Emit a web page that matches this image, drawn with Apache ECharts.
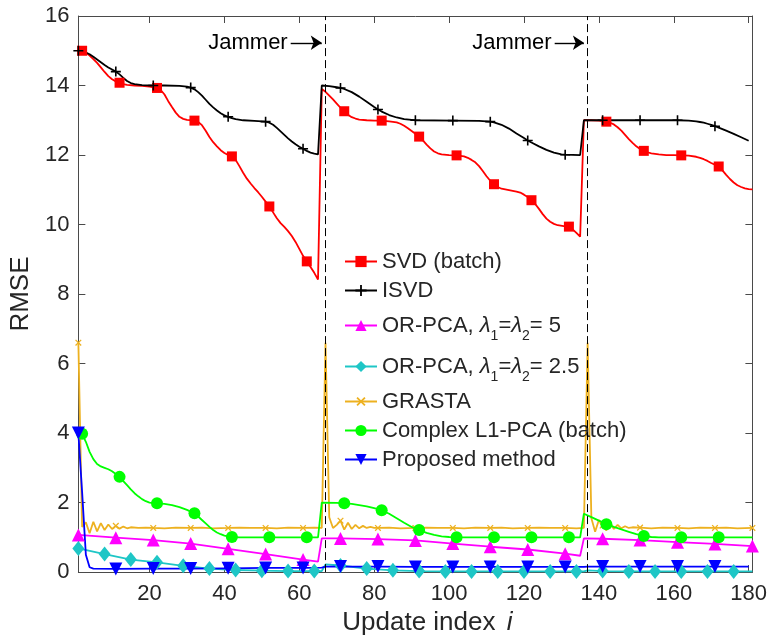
<!DOCTYPE html>
<html>
<head>
<meta charset="utf-8">
<script src="https://cdn.jsdelivr.net/npm/echarts@6/dist/echarts.min.js"></script>
<style>
  html, body { margin: 0; padding: 0; background: #fff; }
  #chart { width: 770px; height: 641px; }
</style>
</head>
<body>
<div id="chart"></div>
<script>
// RMSE per update index for each subspace tracker; [index, RMSE]
const svdBatch = [
  [1,15.0],[2,15.0],[3,14.95],[4,14.86],[5,14.76],[6,14.65],[7,14.52],[8,14.39],[9,14.27],[10,14.18],
  [11,14.12],[12,14.08],[13,14.04],[14,14.02],[16,14.0],[18,13.99],[20,13.97],[22,13.93],[23,13.87],[24,13.74],
  [25,13.55],[26,13.38],[27,13.22],[28,13.1],[29,13.04],[30,13.01],[32,12.99],[33,12.95],[34,12.86],[35,12.7],
  [36,12.52],[37,12.37],[38,12.25],[39,12.14],[40,12.06],[41,12.0],[42,11.96],[43,11.86],[44,11.68],[45,11.49],
  [46,11.32],[47,11.18],[48,11.05],[49,10.93],[50,10.8],[51,10.66],[52,10.52],[53,10.35],[54,10.18],[55,10.04],
  [56,9.93],[57,9.81],[58,9.67],[59,9.5],[60,9.3],[61,9.1],[62,8.94],[63,8.78],[64,8.61],[65,8.42],
  [66,13.9],[67,13.82],[68,13.71],[69,13.6],[70,13.48],[71,13.36],[72,13.26],[73,13.16],[74,13.09],[75,13.05],
  [76,13.02],[78,13.0],[80,12.99],[82,12.99],[84,12.97],[86,12.94],[87,12.9],[88,12.84],[89,12.77],[90,12.69],
  [91,12.61],[92,12.53],[93,12.42],[94,12.3],[95,12.19],[96,12.1],[97,12.05],[98,12.02],[100,12.0],[102,11.99],
  [104,11.96],[105,11.92],[106,11.86],[107,11.79],[108,11.68],[109,11.54],[110,11.39],[111,11.26],[112,11.16],[113,11.08],
  [114,11.03],[116,10.99],[118,10.95],[119,10.92],[120,10.86],[121,10.79],[122,10.7],[123,10.59],[124,10.45],[125,10.3],
  [126,10.17],[127,10.08],[128,10.02],[129,9.98],[131,9.95],[132,9.94],[133,9.86],[134,9.76],[135,9.65],
  [136,13.0],[138,13.0],[140,12.99],[142,12.96],[143,12.93],[144,12.88],[145,12.8],[146,12.7],[147,12.58],[148,12.46],
  [149,12.35],[150,12.25],[151,12.17],[152,12.12],[153,12.08],[154,12.05],[156,12.02],[158,12.0],[160,12.0],[162,11.99],
  [164,11.98],[166,11.95],[167,11.92],[168,11.88],[169,11.83],[170,11.77],[171,11.72],[172,11.67],[173,11.56],[174,11.43],
  [175,11.31],[176,11.21],[177,11.13],[178,11.08],[179,11.04],[180,11.02],[181,11.01]
];

const isvd = [
  [1,15.0],[2,14.99],[3,14.95],[4,14.9],[5,14.83],[6,14.75],[7,14.67],[8,14.59],[9,14.52],[10,14.46],
  [11,14.4],[12,14.32],[13,14.22],[14,14.13],[15,14.07],[16,14.04],[18,14.01],[21,14.0],[24,14.0],[28,13.99],
  [30,13.97],[31,13.94],[32,13.89],[33,13.81],[34,13.71],[35,13.59],[36,13.47],[37,13.37],[38,13.28],[39,13.2],
  [40,13.14],[41,13.1],[42,13.06],[43,13.03],[45,13.0],[48,12.98],[51,12.96],[52,12.93],[53,12.87],[54,12.78],
  [55,12.68],[56,12.58],[57,12.48],[58,12.39],[59,12.31],[60,12.24],[61,12.18],[62,12.12],[63,12.07],[64,12.04],[65,12.02],
  [66,14.0],[68,13.98],[70,13.95],[71,13.93],[72,13.9],[74,13.81],[76,13.68],[78,13.53],[80,13.38],[81,13.31],
  [82,13.25],[84,13.15],[86,13.08],[88,13.03],[90,13.01],[91,13.0],[101,12.99],[108,12.98],[111,12.96],[112,12.94],
  [114,12.87],[116,12.76],[118,12.62],[120,12.49],[121,12.42],[122,12.36],[124,12.25],[126,12.15],[128,12.07],[130,12.02],
  [131,12.01],[135,12.0],
  [136,13.0],[141,13.0],[151,13.0],[161,13.0],[164,12.99],[166,12.97],[167,12.95],[168,12.93],[169,12.9],[170,12.87],
  [171,12.83],[172,12.79],[174,12.7],[176,12.61],[178,12.51],[180,12.41]
];

const orPca5 = [
  [1,1.07],[11,0.99],[21,0.92],[31,0.82],[41,0.67],[51,0.52],[61,0.36],[65,0.3],
  [66,0.97],[71,0.97],[81,0.95],[91,0.91],[101,0.82],[111,0.73],[121,0.65],[131,0.53],[135,0.47],
  [136,0.97],[141,0.96],[151,0.92],[161,0.86],[171,0.81],[181,0.75]
];

const orPca25 = [
  [1,0.68],[8,0.52],[15,0.36],[22,0.28],[29,0.18],[36,0.1],[43,0.06],[50,0.04],[57,0.03],[64,0.03],[66,0.03],
  [67,0.22],[71,0.19],[78,0.1],[85,0.05],[92,0.03],[99,0.02],[106,0.02],[113,0.02],[120,0.02],[127,0.02],[134,0.02],[136,0.02],
  [137,0.05],[141,0.03],[148,0.02],[155,0.02],[162,0.02],[169,0.02],[176,0.02],[181,0.02]
];

const grasta = [
  [1,6.6],[2,1.3],[3,1.43],[4,1.12],[5,1.45],[6,1.17],[7,1.41],[8,1.21],[9,1.37],[10,1.24],
  [11,1.33],[12,1.25],[13,1.31],[14,1.26],[15,1.29],[17,1.27],[19,1.28],[21,1.27],[24,1.26],[27,1.28],
  [31,1.27],[34,1.28],[37,1.26],[41,1.27],[44,1.28],[47,1.27],[51,1.27],[54,1.26],[57,1.28],[61,1.27],[64,1.28],[66,1.27],
  [67,6.6],[68,1.58],[69,1.27],[70,1.36],[71,1.48],[72,1.22],[73,1.42],[74,1.24],[75,1.36],[76,1.26],
  [77,1.33],[78,1.27],[79,1.3],[80,1.27],[81,1.27],[84,1.28],[87,1.26],[91,1.27],[94,1.28],[97,1.27],
  [101,1.27],[104,1.26],[107,1.28],[111,1.27],[114,1.28],[117,1.26],[121,1.27],[124,1.28],[127,1.27],[131,1.27],[134,1.26],[136,1.27],
  [137,6.6],[138,1.55],[139,1.16],[140,1.5],[141,1.34],[142,1.2],[143,1.42],[144,1.24],[145,1.36],[146,1.26],
  [147,1.32],[148,1.27],[149,1.29],[151,1.28],[154,1.26],[157,1.28],[161,1.27],[164,1.26],[167,1.28],[171,1.27],
  [174,1.28],[177,1.26],[181,1.27]
];

const complexL1 = [
  [1,4.0],[2,3.98],[3,3.75],[4,3.46],[5,3.25],[6,3.11],[7,3.04],[8,3.0],[9,2.96],[10,2.9],
  [11,2.82],[12,2.74],[13,2.62],[14,2.5],[15,2.38],[16,2.27],[17,2.18],[18,2.1],[19,2.04],[20,2.0],
  [22,1.98],[24,1.96],[26,1.93],[28,1.87],[30,1.79],[32,1.69],[33,1.6],[34,1.5],[35,1.4],[36,1.3],
  [37,1.21],[38,1.14],[39,1.09],[40,1.05],[41,1.03],[42,1.01],[44,1.0],[52,1.0],[62,1.0],[65,1.0],
  [66,2.0],[70,1.99],[72,1.98],[74,1.96],[76,1.93],[78,1.89],[80,1.84],[82,1.78],[84,1.68],[86,1.55],
  [88,1.42],[90,1.3],[92,1.21],[94,1.13],[96,1.07],[98,1.03],[100,1.01],[102,1.0],[112,1.0],[122,1.0],
  [132,1.0],[135,1.0],
  [136,1.68],[138,1.58],[140,1.48],[142,1.38],[144,1.3],[146,1.23],[148,1.16],[150,1.09],[152,1.04],[154,1.01],
  [156,1.0],[162,1.0],[172,1.0],[181,1.0]
];

const proposed = [
  [1,4.0],[2,2.3],[3,0.5],[4,0.14],[5,0.1],[11,0.09],[21,0.1],[31,0.1],[41,0.11],[51,0.12],[61,0.12],[66,0.13],
  [67,0.16],[71,0.16],[81,0.16],[91,0.15],[101,0.15],[111,0.15],[121,0.15],[131,0.15],[136,0.15],
  [137,0.16],[141,0.16],[151,0.16],[161,0.16],[171,0.16],[180,0.16]
];

// update indices where the jammer switches on
const jammerAt = [67, 137];

// axis tick labels
const xTicks = [20, 40, 60, 80, 100, 120, 140, 160, 180];

const seriesNames = [
  'SVD (batch)',
  'ISVD',
  'OR-PCA, λ1=λ2= 5',
  'OR-PCA, λ1=λ2= 2.5',
  'GRASTA',
  'Complex L1-PCA (batch)',
  'Proposed method'
];

const FONT = '"Liberation Sans", Arial, Helvetica, sans-serif';
const AXIS_COLOR = '#4a4a4a';
const TEXT_COLOR = '#262626';
const PLUS = 'path://M0,4.2H10V5.8H0Z M4.2,0H5.8V10H4.2Z';

// legend labels with subscripted lambdas
const legendLabels = {
  'OR-PCA, λ1=λ2= 5': '{t|OR-PCA, }{l|λ}{s|1}{t|=}{l|λ}{s|2}{t|= 5}',
  'OR-PCA, λ1=λ2= 2.5': '{t|OR-PCA, }{l|λ}{s|1}{t|=}{l|λ}{s|2}{t|= 2.5}'
};

// symbols are drawn only at every step-th update index starting from `first`
function markerEvery(first, step, size) {
  return function (value) {
    const x = value[0];
    return (x >= first && (x - first) % step === 0) ? size : 0;
  };
}

function trace(name, data, color, symbol, size, first, step, rotate) {
  return {
    type: 'line',
    name: name,
    data: data,
    color: color,
    symbol: symbol,
    symbolRotate: rotate || 0,
    symbolSize: markerEvery(first, step, size),
    showAllSymbol: true,
    lineStyle: { width: 1.8, color: color },
    itemStyle: { color: color, borderWidth: 0 },
    emphasis: { disabled: true },
    z: 3
  };
}

const chart = echarts.init(document.getElementById('chart'), null, { renderer: 'canvas' });

const option = {
  animation: false,
  backgroundColor: '#ffffff',
  textStyle: { fontFamily: FONT },
  grid: { left: 77, right: 17, top: 16, bottom: 66, containLabel: false },
  legend: {
    orient: 'vertical',
    left: 339,
    top: 245,
    data: seriesNames,
    selectedMode: false,
    itemWidth: 32,
    itemHeight: 14,
    itemGap: 6,
    padding: 5,
    formatter: function (name) { return legendLabels[name] || name; },
    textStyle: {
      fontFamily: FONT,
      fontSize: 22,
      lineHeight: 23,
      color: TEXT_COLOR,
      rich: {
        t: { fontFamily: FONT, fontSize: 22, lineHeight: 35, color: TEXT_COLOR },
        l: { fontFamily: FONT, fontSize: 22, lineHeight: 35, color: TEXT_COLOR, fontStyle: 'italic' },
        s: { fontFamily: FONT, fontSize: 14, lineHeight: 12, color: TEXT_COLOR, verticalAlign: 'bottom' }
      }
    }
  },
  xAxis: [
    {
      type: 'value', min: 1, max: 181, position: 'bottom',
      axisLine: { show: true, onZero: false, lineStyle: { color: AXIS_COLOR, width: 1 } },
      axisTick: { show: true, inside: true, length: 7, customValues: xTicks, lineStyle: { color: AXIS_COLOR } },
      axisLabel: { customValues: xTicks, fontSize: 22, color: TEXT_COLOR, margin: 11, fontFamily: FONT },
      splitLine: { show: false },
      name: 'Update index {it|i}',
      nameLocation: 'middle',
      nameGap: 35,
      nameTextStyle: {
        fontFamily: FONT, fontSize: 26, color: TEXT_COLOR, padding: [0, 0, 0, 24],
        rich: { it: { fontFamily: FONT, fontSize: 26, color: TEXT_COLOR, fontStyle: 'italic', padding: [0, 0, 0, 4] } }
      }
    },
    {
      type: 'value', min: 1, max: 181, position: 'top',
      axisLine: { show: true, onZero: false, lineStyle: { color: AXIS_COLOR, width: 1 } },
      axisTick: { show: true, inside: true, length: 7, customValues: xTicks, lineStyle: { color: AXIS_COLOR } },
      axisLabel: { show: false },
      splitLine: { show: false }
    }
  ],
  yAxis: [
    {
      type: 'value', min: 0, max: 16, interval: 2, position: 'left',
      axisLine: { show: true, onZero: false, lineStyle: { color: AXIS_COLOR, width: 1 } },
      axisTick: { show: true, inside: true, length: 7, lineStyle: { color: AXIS_COLOR } },
      axisLabel: { fontSize: 22, color: TEXT_COLOR, margin: 9, fontFamily: FONT },
      splitLine: { show: false },
      name: 'RMSE',
      nameLocation: 'middle',
      nameGap: 44,
      nameTextStyle: { fontFamily: FONT, fontSize: 26, color: TEXT_COLOR }
    },
    {
      type: 'value', min: 0, max: 16, interval: 2, position: 'right',
      axisLine: { show: true, onZero: false, lineStyle: { color: AXIS_COLOR, width: 1 } },
      axisTick: { show: true, inside: true, length: 7, lineStyle: { color: AXIS_COLOR } },
      axisLabel: { show: false },
      splitLine: { show: false }
    }
  ],
  series: [
    trace(seriesNames[0], svdBatch, '#ff0000', 'rect', 10, 2, 10),
    trace(seriesNames[1], isvd, '#000000', PLUS, 10, 1, 10),
    trace(seriesNames[2], orPca5, '#ff00ff', 'triangle', 13, 1, 10),
    trace(seriesNames[3], orPca25, '#1ec6c6', 'diamond', [12, 15], 1, 7),
    trace(seriesNames[4], grasta, '#edb120', PLUS, 8, 1, 10, 45),
    trace(seriesNames[5], complexL1, '#00ff00', 'circle', 12, 2, 10),
    trace(seriesNames[6], proposed, '#0000ff', 'triangle', 13, 1, 10, 180),
    {
      // dashed markers at the jammer onsets
      type: 'line', name: 'jammer-onset', data: [],
      markLine: {
        silent: true, symbol: 'none', z: 5,
        lineStyle: { color: '#000', width: 1, type: [8, 4] },
        label: { show: false },
        data: jammerAt.map(function (x) { return { xAxis: x }; })
      }
    },
    {
      // "Jammer" arrows pointing at the onsets
      type: 'line', name: 'jammer-label', data: [],
      markLine: {
        silent: true, symbol: ['none', 'arrow'], symbolSize: 11, z: 5,
        lineStyle: { color: '#000', width: 1.4, type: 'solid' },
        label: { show: true, position: 'start', formatter: 'Jammer', fontFamily: FONT, fontSize: 22, color: '#000', distance: 3 },
        data: [
          [{ coord: [57.7, 15.23] }, { coord: [jammerAt[0] - 1, 15.23] }],
          [{ coord: [128.2, 15.23] }, { coord: [jammerAt[1] - 1, 15.23] }]
        ]
      }
    }
  ]
};

chart.setOption(option);
</script>
</body>
</html>
